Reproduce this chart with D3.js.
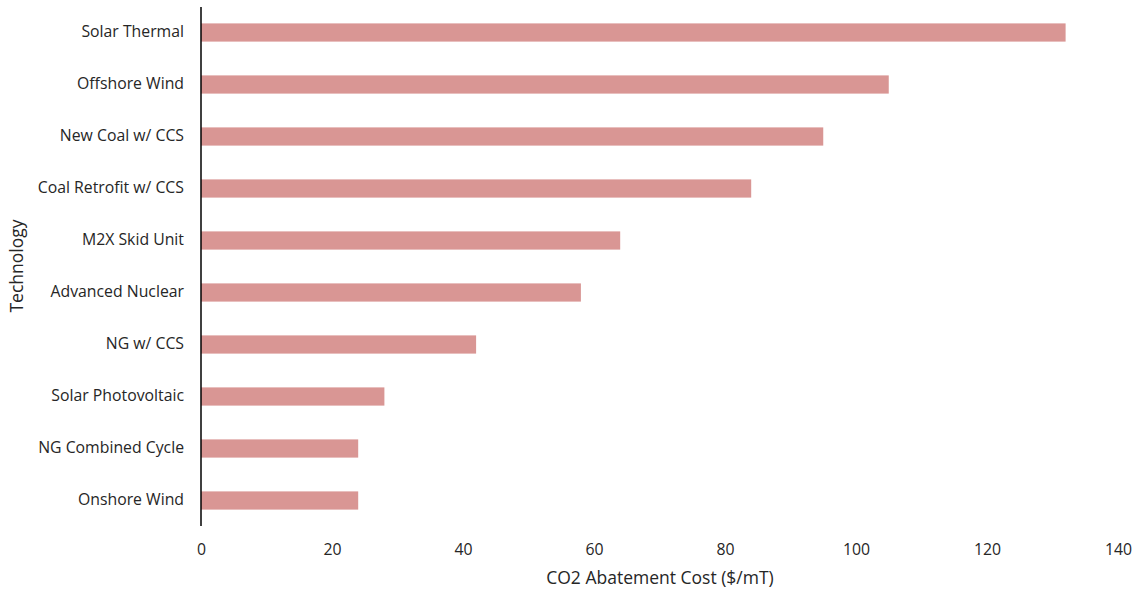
<!DOCTYPE html>
<html>
<head>
<meta charset="utf-8">
<script src="https://cdn.jsdelivr.net/npm/d3@7"></script>
<style>
  body { margin: 0; background: #fff; }
  svg text { font-family: "Open Sans", Lato, sans-serif; fill: #262626; }
</style>
</head>
<body>
<svg id="chart" width="1138" height="594"></svg>
<script>
// CO2 abatement cost by generating technology
const technologies = [
  "Solar Thermal", "Offshore Wind", "New Coal w/ CCS", "Coal Retrofit w/ CCS",
  "M2X Skid Unit", "Advanced Nuclear", "NG w/ CCS", "Solar Photovoltaic",
  "NG Combined Cycle", "Onshore Wind"
];
const costs = [132, 105, 95, 84, 64, 58, 42, 28, 24, 24];
const xTicks = [0, 20, 40, 60, 80, 100, 120, 140];

const svg = d3.select("#chart");
const margin = { top: 6, right: 20, bottom: 68, left: 201 };
const W = 1138, H = 594;

const x = d3.scaleLinear().domain([0, 140]).range([margin.left, 1118]);
const y = d3.scaleBand().domain(technologies)
  .range([margin.top, H - margin.bottom]).paddingInner(0.65).paddingOuter(0.325);

const data = technologies.map((t, i) => ({ t, v: costs[i] }));

svg.append("g").selectAll("rect").data(data).join("rect")
  .attr("x", x(0))
  .attr("y", d => y(d.t) + 0.5)
  .attr("width", d => x(d.v) - x(0))
  .attr("height", y.bandwidth())
  .attr("fill", "#D99694");

// vertical category axis
const yAxis = svg.append("g").attr("transform", `translate(${x(0)},0)`)
  .call(d3.axisLeft(y).tickSize(0).tickPadding(17));
yAxis.select(".domain").attr("stroke", "#000").attr("stroke-width", 1.5)
  .attr("d", `M0,${margin.top + 1}V${H - margin.bottom}`);
yAxis.selectAll("text").attr("font-size", 15.8);

// value axis labels (no axis line)
const xAxis = svg.append("g").attr("transform", `translate(0,${H - margin.bottom})`)
  .call(d3.axisBottom(x).tickValues(xTicks).tickSize(0).tickPadding(18));
xAxis.select(".domain").remove();
xAxis.selectAll("text").attr("font-size", 15.8);

svg.append("text")
  .attr("x", 660)
  .attr("y", 584)
  .attr("text-anchor", "middle")
  .attr("font-size", 17.5)
  .text("CO2 Abatement Cost ($/mT)");

svg.append("text")
  .attr("transform", `translate(23,${(margin.top + H - margin.bottom) / 2}) rotate(-90)`)
  .attr("text-anchor", "middle")
  .attr("font-size", 17.5)
  .text("Technology");
</script>
</body>
</html>
